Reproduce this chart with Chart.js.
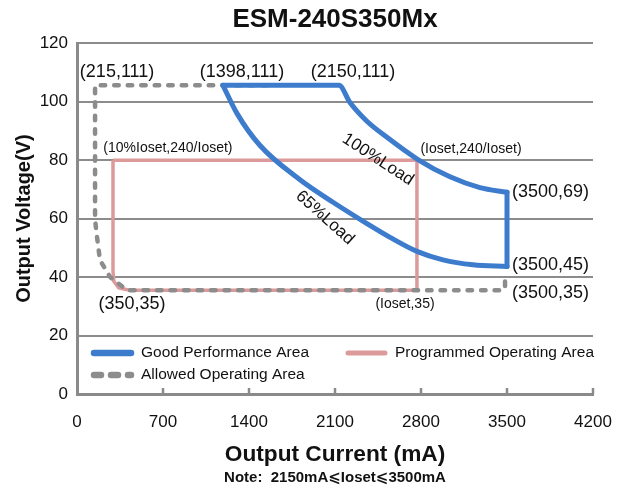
<!DOCTYPE html>
<html>
<head>
<meta charset="utf-8">
<script src="https://cdn.jsdelivr.net/npm/chart.js@4.4.1/dist/chart.umd.min.js"></script>
<style>
  body { margin: 0; background: #fff; }
</style>
</head>
<body>
<canvas id="derating" width="618" height="492"></canvas>
<script>
const FONT = "'Liberation Sans', Arial, 'DejaVu Sans', sans-serif";

// x ticks (mA)
const xTicks = [0, 700, 1400, 2100, 2800, 3500, 4200];

// good performance area: top edge + 100% load curve
const goodTopX = [1188, 2132, 2222, 2360, 2523, 2775, 3036, 3280, 3500];
const goodTopY = [105.6, 105.6, 99.7, 93.3, 87.8, 80.2, 74.3, 70.6, 69];
// right edge at 3500 mA
const goodEdgeX = [3500, 3500];
const goodEdgeY = [69, 43.6];
// 65% load curve
const goodLowX = [1188, 1302, 1490, 1815, 2084, 2360, 2548, 2767, 2979, 3223, 3500];
const goodLowY = [105.6, 96.0, 85.0, 73.3, 65.6, 58.3, 53.6, 48.8, 45.9, 44.2, 43.6];

// programmed operating area
const progX = [293, 2767, 2767, 430, 340, 300, 293, 293];
const progY = [80, 80, 35.5, 35.5, 36.3, 38.5, 42, 80];

// allowed operating area
const allowX = [3484, 3484, 3470, 407, 269, 187, 163, 147, 147, 1595];
const allowY = [38.5, 36.5, 35.5, 35.5, 40, 45.8, 53.7, 59.6, 105.6, 105.6];

// point labels [text, x, y]
const bigLabels = [
  ["(215,111)", 326, 110],
  ["(1398,111)", 1343, 110],
  ["(2150,111)", 2246, 110],
  ["(350,35)", 448, 30.7],
];
const sideLabels = [
  ["(3500,69)", 3541, 69.2],
  ["(3500,45)", 3541, 44.1],
  ["(3500,35)", 3541, 34.5],
];
const smallLabels = [
  ["(10%Ioset,240/Ioset)", 740, 84.2],
  ["(Ioset,240/Ioset)", 3207, 83.6],
  ["(Ioset,35)", 2670, 30.7],
];
const loadLabels = [
  ["100%Load", 2450, 80.2, 33],
  ["65%Load", 2018, 60.3, 42],
];

const zip = (xs, ys) => xs.map((x, i) => ({ x: x, y: ys[i] }));

Chart.defaults.font.family = FONT;
Chart.defaults.color = "#111";

const BLUE = "#3d7ccc";
const RED = "#dc9a9a";
const GREY = "#8c8c8c";

const overlay = {
  id: "overlay",
  afterDatasetsDraw(chart) {
    const { ctx, chartArea, scales: { x, y } } = chart;
    ctx.save();

    // small inner tick marks on the x axis
    ctx.strokeStyle = "#8a8a8a";
    ctx.lineWidth = 2.5;
    xTicks.slice(1).forEach((v) => {
      const px = x.getPixelForValue(v);
      ctx.beginPath();
      ctx.moveTo(px, chartArea.bottom);
      ctx.lineTo(px, chartArea.bottom - 6);
      ctx.stroke();
    });

    ctx.fillStyle = "#111";
    ctx.textBaseline = "middle";
    ctx.font = "18px " + FONT;
    ctx.textAlign = "center";
    bigLabels.forEach(([t, vx, vy]) => ctx.fillText(t, x.getPixelForValue(vx), y.getPixelForValue(vy)));
    ctx.textAlign = "left";
    sideLabels.forEach(([t, vx, vy]) => ctx.fillText(t, x.getPixelForValue(vx), y.getPixelForValue(vy)));
    ctx.font = "14px " + FONT;
    ctx.textAlign = "center";
    smallLabels.forEach(([t, vx, vy]) => ctx.fillText(t, x.getPixelForValue(vx), y.getPixelForValue(vy)));
    ctx.font = "17px " + FONT;
    loadLabels.forEach(([t, vx, vy, rot]) => {
      ctx.save();
      ctx.translate(x.getPixelForValue(vx), y.getPixelForValue(vy));
      ctx.rotate((rot * Math.PI) / 180);
      ctx.fillText(t, 0, 0);
      ctx.restore();
    });

    // legend inside the plot
    const items = [
      ["Good Performance Area", BLUE, null, 6.5, 14, 41],
      ["Programmed Operating Area", RED, null, 5, 268, 41],
      ["Allowed Operating Area", GREY, [7, 10], 6.5, 14, 19],
    ];
    ctx.font = "15.5px " + FONT;
    ctx.textAlign = "left";
    items.forEach(([label, color, dash, w, dx, dy]) => {
      const lx = chartArea.left + dx;
      const ly = chartArea.bottom - dy;
      ctx.save();
      ctx.strokeStyle = color;
      ctx.lineCap = "round";
      ctx.lineWidth = w;
      if (dash) ctx.setLineDash(dash);
      ctx.beginPath();
      ctx.moveTo(lx + 3, ly);
      ctx.lineTo(lx + 40, ly);
      ctx.stroke();
      ctx.restore();
      ctx.fillText(label, lx + 50, ly);
    });

    ctx.restore();
  },
};

const blueLine = {
  showLine: true,
  borderColor: BLUE,
  borderWidth: 5,
  borderCapStyle: "round",
  borderJoinStyle: "round",
  cubicInterpolationMode: "monotone",
  pointRadius: 0,
  order: 0,
};

new Chart(document.getElementById("derating"), {
  type: "scatter",
  data: {
    datasets: [
      Object.assign({ label: "Good Performance Area", data: zip(goodTopX, goodTopY) }, blueLine),
      Object.assign({ label: "Good Performance Area", data: zip(goodEdgeX, goodEdgeY) }, blueLine),
      Object.assign({ label: "Good Performance Area", data: zip(goodLowX, goodLowY) }, blueLine),
      {
        label: "Programmed Operating Area",
        data: zip(progX, progY),
        showLine: true,
        borderColor: RED,
        borderWidth: 3.5,
        pointRadius: 0,
        order: 2,
      },
      {
        label: "Allowed Operating Area",
        data: zip(allowX, allowY),
        showLine: true,
        borderColor: GREY,
        borderWidth: 4.5,
        borderDash: [4.5, 9],
        borderCapStyle: "round",
        pointRadius: 0,
        order: 1,
      },
    ],
  },
  options: {
    responsive: false,
    animation: false,
    layout: { padding: { left: 0, right: 25, top: 0, bottom: 0 } },
    plugins: {
      legend: { display: false },
      tooltip: { enabled: false },
      title: {
        display: true,
        text: "ESM-240S350Mx",
        fullSize: false,
        color: "#111",
        font: { size: 26, weight: "bold" },
        padding: { top: 4, bottom: 8 },
      },
      subtitle: {
        display: true,
        position: "bottom",
        text: "Note:  2150mA⩽Ioset⩽3500mA",
        fullSize: false,
        color: "#111",
        font: { size: 15, weight: "bold" },
        padding: { top: 1, bottom: 5 },
      },
    },
    scales: {
      x: {
        type: "linear",
        min: 0,
        max: 4200,
        afterBuildTicks: (s) => {
          s.ticks = xTicks.map((v) => ({ value: v }));
        },
        afterFit: (s) => {
          s.height = 74;
          s.paddingLeft = 0;
          s.paddingRight = 0;
        },
        grid: { display: false, drawTicks: false },
        border: { color: "#8a8a8a", width: 3 },
        ticks: { padding: 18, font: { size: 17 }, color: "#111", callback: (v) => String(v) },
        title: {
          display: true,
          text: "Output Current (mA)",
          color: "#111",
          font: { size: 22.7, weight: "bold" },
          padding: { top: 0, bottom: 0 },
        },
      },
      y: {
        min: 0,
        max: 120,
        afterFit: (s) => {
          s.width = 77;
        },
        ticks: { stepSize: 20, padding: 9, font: { size: 17 }, color: "#111" },
        grid: { color: "#8c8c8c", lineWidth: 2, drawTicks: false },
        border: { color: "#8a8a8a", width: 3 },
        title: {
          display: true,
          text: "Output Voltage(V)",
          color: "#111",
          font: { size: 20, weight: "bold" },
          padding: { top: 12, bottom: 0 },
        },
      },
    },
  },
  plugins: [overlay],
});
</script>
</body>
</html>
